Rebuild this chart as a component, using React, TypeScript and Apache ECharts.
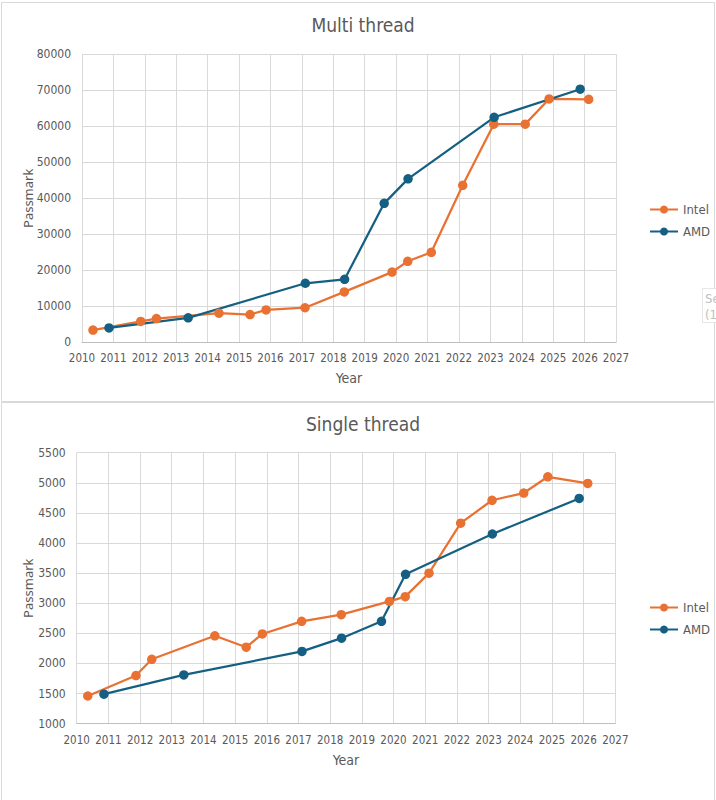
import React, { useEffect, useRef } from "react";
import * as echarts from "echarts";

const intelYears = [2010.35, 2011.87, 2012.37, 2014.36, 2015.35, 2015.86, 2017.1, 2018.35, 2019.87, 2020.37, 2021.12, 2022.12, 2023.11, 2024.11, 2024.87, 2026.13];
const amdYears = [2010.86, 2013.38, 2017.11, 2018.36, 2019.62, 2020.38, 2023.12, 2025.86];

const intelMulti = [3400, 5800, 6600, 8100, 7700, 9000, 9600, 14000, 19500, 22500, 25000, 43600, 60600, 60600, 67600, 67500];
const amdMulti = [4000, 6800, 16400, 17500, 38600, 45400, 62500, 70300];

const intelSingle = [1460, 1800, 2070, 2460, 2270, 2490, 2700, 2810, 3030, 3110, 3500, 4330, 4710, 4830, 5100, 4990];
const amdSingle = [1490, 1810, 2200, 2420, 2700, 3480, 4150, 4740];

const titles = ["Multi thread", "Single thread"];
const seriesNames = ["Intel", "AMD"];
const xName = "Year";
const yName = "Passmark";

const INTEL = "#E97132";
const AMD = "#156082";
const TEXT = "#595959";
const GRID = "#d9d9d9";
const FONT = "'Liberation Sans Narrow', 'DejaVu Sans Condensed', 'Roboto', sans-serif";

const pairs = (xs: number[], ys: number[]) => xs.map((x, i) => [x, ys[i]]);

export default function App() {
  const ref = useRef<HTMLDivElement>(null);
  useEffect(() => {
    document.body.style.margin = "0";
    if (!ref.current) return;
    const chart = echarts.init(ref.current, undefined, { renderer: "svg" });
    const xAxisBase = (gridIndex: number, gap: number) => ({
      type: "value",
      gridIndex,
      min: 2010,
      max: 2027,
      interval: 1,
      name: xName,
      nameLocation: "middle",
      nameGap: gap,
      nameMoveOverlap: false,
      nameTextStyle: { color: TEXT, fontSize: 14, fontFamily: FONT },
      axisLine: { show: true, lineStyle: { color: "#bfbfbf", width: 1 } },
      axisTick: { show: false },
      axisLabel: { color: TEXT, fontSize: 11.5, fontFamily: FONT, margin: 10, formatter: (v: number) => String(v) },
      splitLine: { show: true, lineStyle: { color: GRID, width: 1 } },
    });
    const yAxisBase = (gridIndex: number, min: number, max: number, interval: number, gap: number) => ({
      type: "value",
      gridIndex,
      min,
      max,
      interval,
      name: yName,
      nameLocation: "middle",
      nameGap: gap,
      nameMoveOverlap: false,
      nameTextStyle: { color: TEXT, fontSize: 13, fontFamily: "'Noto Sans', sans-serif" },
      axisLine: { show: false },
      axisTick: { show: false },
      axisLabel: { color: TEXT, fontSize: 12, fontFamily: FONT, margin: 11, formatter: (v: number) => String(v) },
      splitLine: { show: true, lineStyle: { color: GRID, width: 1 } },
    });
    const lineSeries = (name: string, color: string, data: number[][], idx: number) => ({
      name,
      type: "line",
      xAxisIndex: idx,
      yAxisIndex: idx,
      data,
      symbol: "circle",
      symbolSize: 9.5,
      showSymbol: true,
      lineStyle: { color, width: 2.25 },
      itemStyle: { color },
      emphasis: { disabled: true },
    });
    const legend = (top: number) => ({
      orient: "vertical",
      left: 649,
      top,
      padding: 0,
      itemWidth: 28,
      itemHeight: 10,
      itemGap: 9,
      data: seriesNames,
      textStyle: { color: TEXT, fontSize: 13, fontFamily: FONT },
      selectedMode: false,
    });
    chart.setOption({
      animation: false,
      backgroundColor: "#ffffff",
      title: [
        { text: titles[0], left: 358, top: 10, textAlign: "center", textStyle: { color: TEXT, fontSize: 19, fontWeight: "normal", fontFamily: FONT } },
        { text: titles[1], left: 358, top: 409, textAlign: "center", textStyle: { color: TEXT, fontSize: 19, fontWeight: "normal", fontFamily: FONT } },
      ],
      legend: [legend(203), legend(601)],
      grid: [
        { left: 82, right: 100, top: 54.3, height: 288, containLabel: false },
        { left: 76.7, right: 100.7, top: 452.7, height: 271, containLabel: false },
      ],
      xAxis: [xAxisBase(0, 29), xAxisBase(1, 29)],
      yAxis: [yAxisBase(0, 0, 80000, 10000, 48), yAxisBase(1, 1000, 5500, 500, 42)],
      series: [
        lineSeries(seriesNames[0], INTEL, pairs(intelYears, intelMulti), 0),
        lineSeries(seriesNames[1], AMD, pairs(amdYears, amdMulti), 0),
        lineSeries(seriesNames[0], INTEL, pairs(intelYears, intelSingle), 1),
        lineSeries(seriesNames[1], AMD, pairs(amdYears, amdSingle), 1),
      ],
      graphic: [
        { type: "rect", shape: { x: 1.5, y: 2.5, width: 713, height: 399 }, style: { fill: "none", stroke: "#d9d9d9", lineWidth: 1 }, silent: true },
        { type: "rect", shape: { x: 1.5, y: 402.5, width: 713, height: 400 }, style: { fill: "none", stroke: "#d9d9d9", lineWidth: 1 }, silent: true },
        { type: "rect", shape: { x: 702.5, y: 288.5, width: 20, height: 34 }, style: { fill: "#ffffff", stroke: "#e6e6e6", lineWidth: 1 }, silent: true },
        { type: "text", x: 705, y: 298, style: { text: "Se", fill: "#c0c0c0", fontSize: 13, fontFamily: FONT, verticalAlign: "middle" }, silent: true },
        { type: "text", x: 705, y: 314, style: { text: "(1", fill: "#c0c0c0", fontSize: 13, fontFamily: FONT, verticalAlign: "middle" }, silent: true },
      ],
    });
    return () => chart.dispose();
  }, []);
  return <div ref={ref} style={{ width: 716, height: 800 }} />;
}
